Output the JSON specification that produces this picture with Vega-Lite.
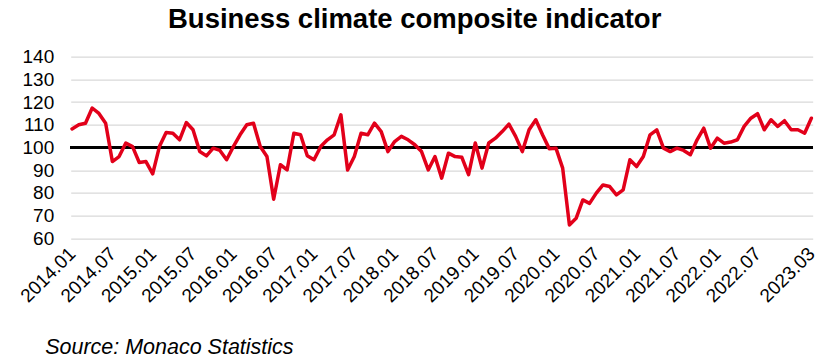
{
  "$schema": "https://vega.github.io/schema/vega-lite/v6.json",
  "width": 742,
  "height": 181.6,
  "autosize": {"type": "none"},
  "padding": {"left": 70.7, "top": 56.7, "right": 23, "bottom": 125},
  "background": "white",
  "title": {
    "text": "Business climate composite indicator",
    "font": "Liberation Sans",
    "fontSize": 27.5,
    "fontWeight": "bold",
    "color": "#000000",
    "anchor": "middle",
    "frame": "group",
    "baseline": "alphabetic",
    "offset": 12,
    "dy": 20,
    "dx": -27
  },
  "config": {
    "view": {"stroke": null},
    "font": "Liberation Sans",
    "axisY": {"labelOverlap": false, "labelFontSize": 19, "labelColor": "#000000", "labelPadding": 17, "ticks": false, "domain": false, "grid": true, "gridColor": "#d9d9d9", "gridWidth": 1.2},
    "axisX": {"labelOverlap": false, "labelFontSize": 19, "labelColor": "#000000", "ticks": false, "domain": false, "grid": false}
  },
  "data": {
    "values": [
      {"month": "2014.01", "value": 108.2}, {"month": "2014.02", "value": 110}, {"month": "2014.03", "value": 110.7}, {"month": "2014.04", "value": 117.4}, {"month": "2014.05", "value": 115}, {"month": "2014.06", "value": 110.7}, {"month": "2014.07", "value": 93.8}, {"month": "2014.08", "value": 96}, {"month": "2014.09", "value": 102}, {"month": "2014.10", "value": 100.4}, {"month": "2014.11", "value": 93.4}, {"month": "2014.12", "value": 93.8},
      {"month": "2015.01", "value": 88.4}, {"month": "2015.02", "value": 100.4}, {"month": "2015.03", "value": 106.6}, {"month": "2015.04", "value": 106.3}, {"month": "2015.05", "value": 103.4}, {"month": "2015.06", "value": 111}, {"month": "2015.07", "value": 107.8}, {"month": "2015.08", "value": 98.2}, {"month": "2015.09", "value": 96.3}, {"month": "2015.10", "value": 99.7}, {"month": "2015.11", "value": 98.7}, {"month": "2015.12", "value": 94.6},
      {"month": "2016.01", "value": 100.4}, {"month": "2016.02", "value": 105.6}, {"month": "2016.03", "value": 110}, {"month": "2016.04", "value": 110.7}, {"month": "2016.05", "value": 100.4}, {"month": "2016.06", "value": 96}, {"month": "2016.07", "value": 77.2}, {"month": "2016.08", "value": 92.4}, {"month": "2016.09", "value": 90.1}, {"month": "2016.10", "value": 106.3}, {"month": "2016.11", "value": 105.6}, {"month": "2016.12", "value": 96.4},
      {"month": "2017.01", "value": 94.6}, {"month": "2017.02", "value": 100.4}, {"month": "2017.03", "value": 103.4}, {"month": "2017.04", "value": 105.6}, {"month": "2017.05", "value": 114.4}, {"month": "2017.06", "value": 90.1}, {"month": "2017.07", "value": 96}, {"month": "2017.08", "value": 106.3}, {"month": "2017.09", "value": 105.6}, {"month": "2017.10", "value": 110.7}, {"month": "2017.11", "value": 107}, {"month": "2017.12", "value": 98.2},
      {"month": "2018.01", "value": 102.6}, {"month": "2018.02", "value": 104.9}, {"month": "2018.03", "value": 103.4}, {"month": "2018.04", "value": 101.2}, {"month": "2018.05", "value": 98.2}, {"month": "2018.06", "value": 90.1}, {"month": "2018.07", "value": 96}, {"month": "2018.08", "value": 86.5}, {"month": "2018.09", "value": 97.5}, {"month": "2018.10", "value": 96}, {"month": "2018.11", "value": 95.7}, {"month": "2018.12", "value": 88},
      {"month": "2019.01", "value": 102}, {"month": "2019.02", "value": 90.9}, {"month": "2019.03", "value": 102}, {"month": "2019.04", "value": 104.1}, {"month": "2019.05", "value": 107}, {"month": "2019.06", "value": 110.3}, {"month": "2019.07", "value": 104.9}, {"month": "2019.08", "value": 98.2}, {"month": "2019.09", "value": 107.8}, {"month": "2019.10", "value": 112.2}, {"month": "2019.11", "value": 105.6}, {"month": "2019.12", "value": 99.5},
      {"month": "2020.01", "value": 99.7}, {"month": "2020.02", "value": 90.9}, {"month": "2020.03", "value": 65.9}, {"month": "2020.04", "value": 68.8}, {"month": "2020.05", "value": 76.9}, {"month": "2020.06", "value": 75.4}, {"month": "2020.07", "value": 79.9}, {"month": "2020.08", "value": 83.5}, {"month": "2020.09", "value": 82.8}, {"month": "2020.10", "value": 79.1}, {"month": "2020.11", "value": 81.3}, {"month": "2020.12", "value": 94.6},
      {"month": "2021.01", "value": 91.6}, {"month": "2021.02", "value": 96}, {"month": "2021.03", "value": 105.6}, {"month": "2021.04", "value": 107.8}, {"month": "2021.05", "value": 99.7}, {"month": "2021.06", "value": 98.2}, {"month": "2021.07", "value": 99.7}, {"month": "2021.08", "value": 98.7}, {"month": "2021.09", "value": 96.8}, {"month": "2021.10", "value": 103.4}, {"month": "2021.11", "value": 108.5}, {"month": "2021.12", "value": 99.7},
      {"month": "2022.01", "value": 104.1}, {"month": "2022.02", "value": 101.9}, {"month": "2022.03", "value": 102.4}, {"month": "2022.04", "value": 103.4}, {"month": "2022.05", "value": 109.3}, {"month": "2022.06", "value": 112.9}, {"month": "2022.07", "value": 114.9}, {"month": "2022.08", "value": 107.8}, {"month": "2022.09", "value": 112.2}, {"month": "2022.10", "value": 109.3}, {"month": "2022.11", "value": 111.8}, {"month": "2022.12", "value": 107.8},
      {"month": "2023.01", "value": 107.8}, {"month": "2023.02", "value": 106.3}, {"month": "2023.03", "value": 112.9}
    ]
  },
  "layer": [
    {
      "mark": {"type": "rule", "color": "#000000", "strokeWidth": 3},
      "encoding": {
        "y": {
          "datum": 100,
          "type": "quantitative",
          "scale": {"domain": [60, 140], "nice": false, "zero": false},
          "axis": {
            "values": [60, 70, 80, 90, 100, 110, 120, 130, 140],
            "labelOverlap": false,
            "title": null
          }
        }
      }
    },
    {
      "mark": {"type": "line", "color": "#E2001A", "strokeWidth": 3.5, "strokeJoin": "round", "strokeCap": "round"},
      "encoding": {
        "x": {
          "field": "month",
          "type": "ordinal",
          "sort": null,
          "scale": {"type": "point", "padding": 0.2},
          "axis": {
            "values": ["2014.01", "2014.07", "2015.01", "2015.07", "2016.01", "2016.07", "2017.01", "2017.07", "2018.01", "2018.07", "2019.01", "2019.07", "2020.01", "2020.07", "2021.01", "2021.07", "2022.01", "2022.07", "2023.03"],
            "labelAngle": -45,
            "labelAlign": "right",
            "labelBaseline": "middle",
            "labelPadding": 12,
            "title": "Source: Monaco Statistics",
            "titleFontStyle": "italic",
            "titleFontWeight": "normal",
            "titleFontSize": 21.5,
            "titleColor": "#000000",
            "titleAnchor": "start",
            "titleAlign": "left",
            "titleBaseline": "alphabetic",
            "titleX": -26,
            "titleY": 115
          }
        },
        "y": {
          "field": "value",
          "type": "quantitative",
          "scale": {"domain": [60, 140], "nice": false, "zero": false},
          "axis": {
            "values": [60, 70, 80, 90, 100, 110, 120, 130, 140],
            "labelOverlap": false,
            "title": null
          }
        }
      }
    }
  ]
}
